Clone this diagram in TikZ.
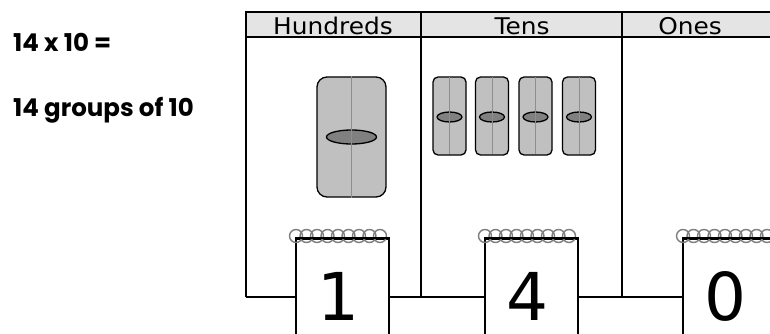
\documentclass[tikz,border=0pt]{standalone}
\usepackage{fontspec}
\setmainfont{DejaVu Sans}
\newfontfamily\labelfont{Poppins}[UprightFont=* Bold]
\usetikzlibrary{positioning,shapes.geometric}
\definecolor{headgray}{HTML}{E4E4E4}
\definecolor{blockgray}{HTML}{C0C0C0}
\definecolor{ovalgray}{HTML}{808080}
\definecolor{seamgray}{HTML}{8E8E8E}
\definecolor{ringgray}{HTML}{7E7E7E}
\newcommand{\widen}[1]{\scalebox{1.08}[1]{#1}}
\tikzset{
  rule/.style={line width=1.5pt, black},
  headtext/.style={font=\fontsize{23}{25}\selectfont, inner sep=0pt},
  sumtext/.style={font=\labelfont\fontsize{24.5}{28}\selectfont, anchor=base west, inner sep=0pt},
  hundredblock/.style={draw=black, line width=1.3pt, fill=blockgray, rounded corners=10pt,
    minimum width=69pt, minimum height=120pt, inner sep=0pt},
  tenrod/.style={draw=black, line width=1.3pt, fill=blockgray, rounded corners=5pt,
    minimum width=33pt, minimum height=78pt, inner sep=0pt},
  seam/.style={seamgray, line width=1pt},
  oval/.style={ellipse, draw=black, line width=1.3pt, fill=ovalgray, inner sep=0pt},
  card/.style={draw=black, line width=1.5pt, fill=white, anchor=north,
    minimum width=93pt, minimum height=120pt, inner sep=0pt},
  digit/.style={font=\fontsize{66}{70}\selectfont, inner sep=0pt},
  ring/.style={ringgray, line width=1.4pt},
}
\begin{document}
\begin{tikzpicture}[x=1pt, y=-1pt]
\useasboundingbox (0,0) rectangle (770,334);

% problem text
\node[sumtext] (sum) at (13,52) {14 x 10 =};
\node[sumtext] (groups) at (13,117) {14 groups of 10};

% header strip
\fill[headgray] (246,12) rectangle (780,37);
\draw[rule] (780,12) -- (246,12) -- (246,37) -- (780,37);
\node[headtext] (hH) at (333,26) {\widen{Hundreds}};
\node[headtext] (hT) at (522,26) {\widen{Tens}};
\node[headtext] (hO) at (690,26) {\widen{Ones}};

% column frame
\coordinate (c0top) at (246,12);
\coordinate (c1top) at (421,12);
\coordinate (c2top) at (622,12);
\coordinate (c0bot) at (246,297);
\coordinate (c1bot) at (421,297);
\coordinate (c2bot) at (622,297);
\draw[rule] (c0top) -- (c0bot);
\draw[rule] (c1top) -- (c1bot);
\draw[rule] (c2top) -- (c2bot);

% number cards
\node[card] (k1) at (342.5,238) {};
\node[card] (k2) at (531.5,238) {};
\node[card] (k3) at (729.5,238) {};
\draw[rule] (c0bot) -- (k1.west |- c0bot);
\draw[rule] (k1.east |- c0bot) -- (k2.west |- c0bot);
\draw[rule] (k2.east |- c0bot) -- (k3.west |- c0bot);

% spiral binding rings
\foreach \cx in {296, 485, 683}{
  \foreach \i in {0,...,8}{
    \draw[ring] (\cx+\i*10.5,236) circle[radius=6.5pt];
  }
}
\draw[rule] (k1.north west) -- (k1.north east);
\draw[rule] (k2.north west) -- (k2.north east);
\draw[rule] (k3.north west) -- (k3.north east);

\node[digit] (d1) at (338,296) {1};
\node[digit] (d2) at (527,296) {4};
\node[digit] (d3) at (725,296) {0};

% hundreds block
\node[hundredblock] (hb) at (351.5,137) {};
\draw[seam] (hb.north) -- (hb.south);
\node[oval, minimum width=50pt, minimum height=14pt] (ho) at (hb.center) {};
\draw[seam] (ho.north) -- (ho.south);

% tens rods
\foreach \n/\rx in {1/449.5, 2/492, 3/535.5, 4/579}{
  \node[tenrod] (r\n) at (\rx,116) {};
  \draw[seam] ([yshift=-1pt]r\n.north) -- ([yshift=1.5pt]r\n.south);
  \node[oval, minimum width=25pt, minimum height=10pt] (o\n) at (\rx,117) {};
  \draw[seam] (o\n.north) -- (o\n.south);
}
\end{tikzpicture}
\end{document}
